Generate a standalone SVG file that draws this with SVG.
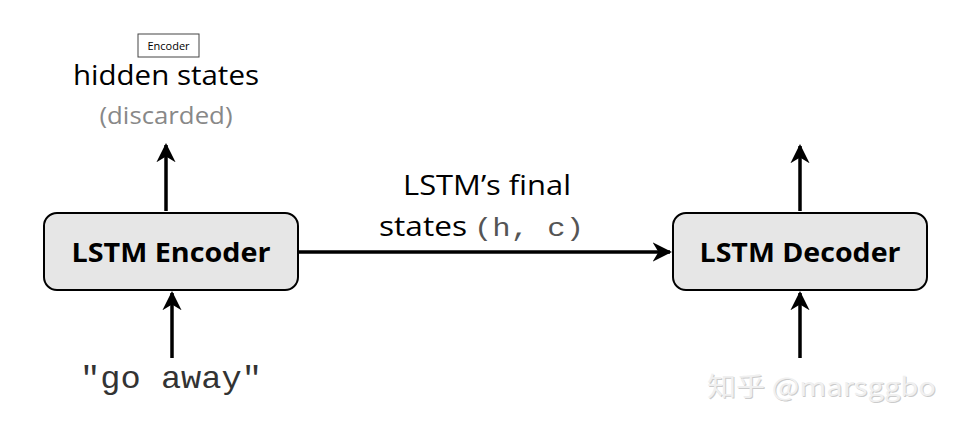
<svg xmlns="http://www.w3.org/2000/svg" width="962" height="431" viewBox="0 0 962 431">
<style>
.box{fill:#e6e6e6;stroke:#000;stroke-width:2}
.lbl{font-family:"Open Sans","Liberation Sans",sans-serif;font-weight:bold;font-size:27px;fill:#000}
.txt{font-family:"Open Sans","Liberation Sans",sans-serif;fill:#000}
.mono{font-family:"Liberation Mono",monospace}
.conn{stroke:#000;stroke-width:3.5;fill:none}
</style>
<defs>
<marker id="ah" viewBox="0 0 10 10" refX="9" refY="5" markerWidth="5.5" markerHeight="5.5" markerUnits="strokeWidth" orient="auto">
<path d="M0,0 L10,5 L0,10 L3,5 Z" fill="#000"/>
</marker>
</defs>
<rect width="962" height="431" fill="#fff"/>
<g id="connectors">
<line class="conn" x1="166" y1="211" x2="166" y2="145" marker-end="url(#ah)"/>
<line class="conn" x1="800" y1="211" x2="800" y2="146" marker-end="url(#ah)"/>
<line class="conn" x1="172" y1="358" x2="172" y2="293" marker-end="url(#ah)"/>
<line class="conn" x1="800" y1="358" x2="800" y2="293" marker-end="url(#ah)"/>
<line class="conn" x1="299" y1="252" x2="670" y2="252" marker-end="url(#ah)"/>
</g>
<g id="encoder">
<rect class="box" x="44" y="213" width="254" height="77" rx="13"/>
<text class="lbl" x="171" y="262" text-anchor="middle" textLength="199" lengthAdjust="spacingAndGlyphs">LSTM Encoder</text>
</g>
<g id="decoder">
<rect class="box" x="673" y="213" width="254" height="77" rx="13"/>
<text class="lbl" x="800" y="262" text-anchor="middle" textLength="201" lengthAdjust="spacingAndGlyphs">LSTM Decoder</text>
</g>
<g id="hidden-states">
<rect x="138" y="34" width="61" height="23" fill="#fff" stroke="#444" stroke-width="1"/>
<text class="txt" x="168.5" y="50" text-anchor="middle" font-size="11" fill="#333">Encoder</text>
<text class="txt" x="166" y="85" text-anchor="middle" font-size="27" textLength="186" lengthAdjust="spacingAndGlyphs">hidden states</text>
<text class="txt" x="166" y="124" text-anchor="middle" font-size="24" fill="#888" style="fill:#888" textLength="133" lengthAdjust="spacingAndGlyphs">(discarded)</text>
</g>
<g id="final-states-label">
<text class="txt" x="487" y="195" text-anchor="middle" font-size="27" textLength="168" lengthAdjust="spacingAndGlyphs">LSTM’s final</text>
<text class="txt" x="379" y="236" font-size="27" textLength="88" lengthAdjust="spacingAndGlyphs">states</text>
<text class="mono" x="474" y="236" font-size="25" fill="#555" textLength="110" lengthAdjust="spacingAndGlyphs">(h, c)</text>
</g>
<g id="input">
<text class="mono" x="80" y="388" font-size="32" fill="#333" textLength="182" lengthAdjust="spacingAndGlyphs">"go away"</text>
</g>
<g id="watermark">
<text x="708" y="397" font-family="'Noto Sans CJK SC','Noto Sans',sans-serif" font-size="26" fill="#999" opacity="0.5" textLength="229" lengthAdjust="spacingAndGlyphs">知乎 @marsggbo</text>
<text x="707" y="396" font-family="'Noto Sans CJK SC','Noto Sans',sans-serif" font-size="26" fill="#f0f0f0" textLength="229" lengthAdjust="spacingAndGlyphs">知乎 @marsggbo</text>
</g>
</svg>
